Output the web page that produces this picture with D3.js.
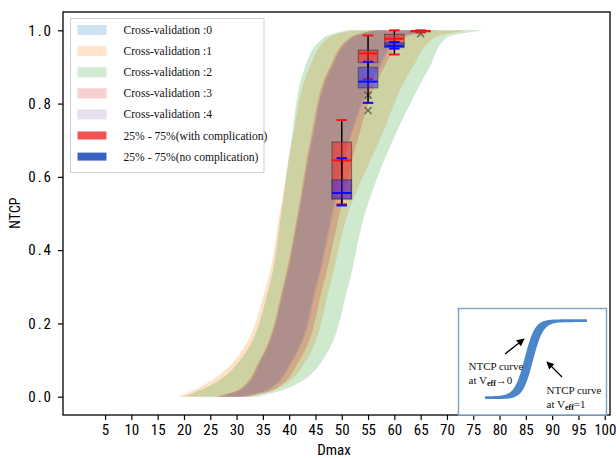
<!DOCTYPE html>
<html><head><meta charset="utf-8">
<script src="https://cdn.jsdelivr.net/npm/d3@7"></script>
<style>body{margin:0;background:#fff}svg{display:block}</style>
</head><body>
<svg id="chart" width="616" height="458"></svg>
<script>
// ---------------- data ----------------
const xTicks = [5,10,15,20,25,30,35,40,45,50,55,60,65,70,75,80,85,90,95,100];
const yTicks = [0, 0.2, 0.4, 0.6, 0.8, 1.0];
const cvNames = ["Cross-validation :0","Cross-validation :1","Cross-validation :2","Cross-validation :3","Cross-validation :4"];
const cvColors = ["#1f77b4","#ff7f0e","#2ca02c","#d62728","#9467bd"];
// NTCP levels at which the band edges (Dmax) were read
const ntcpLevels = [0, 0.02, 0.1, 0.3, 0.5, 0.7, 0.9, 0.98, 1];
const cv0Low  = [26.5, 30.8, 34.6, 39.0, 41.8, 44.3, 48.0, 51.8, 56];
const cv0High = [30.5, 36.0, 40.5, 45.0, 48.1, 51.3, 57.0, 60.8, 67];
const cv1Low  = [19.0, 22.2, 29.7, 35.6, 38.2, 40.6, 43.9, 47.5, 52];
const cv1High = [32.5, 37.5, 43.3, 47.7, 51.2, 57.2, 63.5, 67.6, 74];
const cv2Low  = [20.0, 23.5, 30.7, 36.2, 38.5, 40.4, 43.0, 46.5, 51];
const cv2High = [34.0, 39.2, 46.4, 51.2, 54.4, 59.7, 66.7, 69.9, 77];
const cv3Low  = [26.0, 30.5, 34.4, 38.8, 41.6, 44.0, 47.7, 51.5, 56];
const cv3High = [32.0, 37.3, 42.0, 46.4, 49.6, 53.0, 58.1, 62.0, 68];
const cv4Low  = [27.0, 31.2, 34.8, 39.2, 41.9, 44.4, 48.2, 52.0, 57];
const cv4High = [31.0, 36.3, 40.8, 45.3, 48.4, 51.6, 57.3, 61.1, 67];
const cvLow  = [cv0Low, cv1Low, cv2Low, cv3Low, cv4Low];
const cvHigh = [cv0High, cv1High, cv2High, cv3High, cv4High];

// box plots: with complication (red)
const compPos   = [50, 55, 60, 65];
const compWLow  = [0.525, 0.867, 0.934, 0.994];
const compQ1    = [0.540, 0.912, 0.962, 0.996];
const compMed   = [0.645, 0.937, 0.977, 0.998];
const compQ3    = [0.695, 0.946, 0.989, 0.999];
const compWHigh = [0.755, 0.986, 1.000, 1.000];
const compFliers = [[], [0.823], [], [0.991]];
// box plots: no complication (blue)
const noPos   = [50, 55, 60];
const noWLow  = [0.522, 0.802, 0.950];
const noQ1    = [0.540, 0.843, 0.953];
const noMed   = [0.556, 0.860, 0.957];
const noQ3    = [0.592, 0.899, 0.966];
const noWHigh = [0.651, 0.914, 0.968];
const noFliers = [[], [0.781], []];

const legendBoxNames = ["25% - 75%(with complication)", "25% - 75%(no complication)"];

// inset schematic: centres of the two sigmoid curves (Veff->0, Veff=1)
const insetCentres = [0.39, 0.47];
const insetSlope = 20;

// ---------------- drawing ----------------
const svg = d3.select("#chart");
svg.append("rect").attr("width",616).attr("height",458).attr("fill","#fff");
const L=63, R=610, T=12, B=415;
const x = d3.scaleLinear().domain([-3,101]).range([L,R]);
const y = d3.scaleLinear().domain([-0.05,1.05]).range([B,T]);

svg.append("clipPath").attr("id","clip").append("rect")
  .attr("x",L).attr("y",T).attr("width",R-L).attr("height",B-T);

const plot = svg.append("g").attr("clip-path","url(#clip)");

const area = d3.area()
  .y(d=>y(d.p)).x0(d=>x(d.lo)).x1(d=>x(d.hi))
  .curve(d3.curveMonotoneY);

cvNames.forEach((n,i)=>{
  const rows = ntcpLevels.map((p,k)=>({p, lo:cvLow[i][k], hi:cvHigh[i][k]}));
  plot.append("path").attr("d", area(rows))
    .attr("fill", cvColors[i]).attr("fill-opacity",0.23);
});

// boxes
const boxW = 3.7, capW = 2.0;
function drawBoxes(pos, wl, q1, med, q3, wh, fliers, face, line){
  const g = plot.append("g");
  pos.forEach((p,i)=>{
    g.append("line").attr("x1",x(p)).attr("x2",x(p))
      .attr("y1",y(wl[i])).attr("y2",y(wh[i]))
      .attr("stroke","#000").attr("stroke-width",1.5);
    g.append("rect").attr("x",x(p-boxW/2)).attr("width",x(p+boxW/2)-x(p-boxW/2))
      .attr("y",y(q3[i])).attr("height",Math.max(1,y(q1[i])-y(q3[i])))
      .attr("fill",face).attr("stroke","rgba(60,60,60,0.6)").attr("stroke-width",1.2);
    [wl[i], wh[i]].forEach(v=>{
      g.append("line").attr("x1",x(p-capW/2)).attr("x2",x(p+capW/2))
        .attr("y1",y(v)).attr("y2",y(v)).attr("stroke",line).attr("stroke-width",2);
    });
    g.append("line").attr("x1",x(p-boxW/2)).attr("x2",x(p+boxW/2))
      .attr("y1",y(med[i])).attr("y2",y(med[i])).attr("stroke",line).attr("stroke-width",2);
    fliers[i].forEach(v=>{
      const cx=x(p), cy=y(v), s=3.5;
      g.append("path").attr("d",`M${cx-s},${cy-s}L${cx+s},${cy+s}M${cx-s},${cy+s}L${cx+s},${cy-s}`)
        .attr("stroke","#555").attr("stroke-opacity",0.8).attr("stroke-width",1.6);
    });
  });
}
drawBoxes(compPos, compWLow, compQ1, compMed, compQ3, compWHigh, compFliers, "rgba(245,40,40,0.55)", "#ff1010");
drawBoxes(noPos, noWLow, noQ1, noMed, noQ3, noWHigh, noFliers, "rgba(40,40,255,0.48)", "#0a0aff");

// axes
const tickFont = '"Liberation Sans Narrow","Roboto Condensed","Liberation Sans",sans-serif';
const xAxis = svg.append("g").attr("transform",`translate(0,${B})`)
  .call(d3.axisBottom(x).tickValues(xTicks).tickSize(5).tickPadding(4).tickFormat(d3.format("d")));
const yAxis = svg.append("g").attr("transform",`translate(${L},0)`)
  .call(d3.axisLeft(y).tickValues(yTicks).tickSize(5).tickPadding(5).tickFormat(d3.format(".1f")));
[xAxis,yAxis].forEach(a=>{
  a.select(".domain").remove();
  a.selectAll(".tick line").attr("stroke","#000").attr("stroke-width",1.2);
  a.selectAll("text").attr("fill","#000").style("font-family",tickFont).style("font-size","15px");
});
yAxis.selectAll("text").style("letter-spacing","2px");

// frame
svg.append("rect").attr("x",L).attr("y",T).attr("width",R-L).attr("height",B-T)
  .attr("fill","none").attr("stroke","#000").attr("stroke-width",1.3);

svg.append("text").attr("x",334).attr("y",455).attr("text-anchor","middle")
  .style("font-family",tickFont).style("font-size","15px").text("Dmax");
svg.append("text").attr("transform","translate(20,213) rotate(-90)").attr("text-anchor","middle")
  .style("font-family",tickFont).style("font-size","14px").text("NTCP");

// legend
const lg = svg.append("g");
lg.append("rect").attr("x",70.5).attr("y",18.5).attr("width",193.5).attr("height",154)
  .attr("fill","#fff").attr("fill-opacity",0.85).attr("stroke","#cfcfcf").attr("stroke-width",1);
const legendItems = cvNames.map((n,i)=>({n, c:cvColors[i], op:0.22, h:10}))
  .concat([{n:legendBoxNames[0], c:"#f25252", op:1, h:8},{n:legendBoxNames[1], c:"#3a62c4", op:1, h:8}]);
legendItems.forEach((d,i)=>{
  const cy = 30 + i*21.1;
  lg.append("rect").attr("x",77.5).attr("y",cy-d.h/2).attr("width",29).attr("height",d.h)
    .attr("fill",d.c).attr("fill-opacity",d.op);
  lg.append("text").attr("x",123.5).attr("y",cy).attr("dy","0.35em")
    .style("font-family",'"Liberation Serif","Times New Roman",serif').style("font-size","11.6px")
    .attr("fill","#111").text(d.n);
});

// inset schematic
const ins = svg.append("g");
ins.append("rect").attr("x",458.5).attr("y",308.5).attr("width",148).attr("height",106.5)
  .attr("fill","#fff").attr("stroke","#86a4c8").attr("stroke-width",1.5);
const ix = d3.scaleLinear().domain([0,1]).range([485,587]);
const iy = d3.scaleLinear().domain([0,1]).range([397.7,320.7]);
const sig = (t,c)=>1/(1+Math.exp(-insetSlope*(t-c)));
const ts = d3.range(0,1.0001,0.01);
ins.append("path").attr("d", d3.area()
    .x(t=>ix(t)).y0(t=>iy(sig(t,insetCentres[1]))+1.4).y1(t=>iy(sig(t,insetCentres[0]))-1.4)(ts))
  .attr("fill","#4a86c8");
const defs = svg.append("defs");
defs.append("marker").attr("id","arr").attr("viewBox","0 0 10 10").attr("refX",9).attr("refY",5)
  .attr("markerWidth",6).attr("markerHeight",6).attr("orient","auto")
  .append("path").attr("d","M0,0L10,5L0,10z").attr("fill","#000");
ins.append("line").attr("x1",505).attr("y1",354).attr("x2",524).attr("y2",339)
  .attr("stroke","#000").attr("stroke-width",1.3).attr("marker-end","url(#arr)");
ins.append("line").attr("x1",562).attr("y1",377).attr("x2",547).attr("y2",362)
  .attr("stroke","#000").attr("stroke-width",1.3).attr("marker-end","url(#arr)");
const serif = '"Liberation Serif","Times New Roman",serif';
function insetLabel(x0, y0, tail){
  ins.append("text").attr("x",x0).attr("y",y0)
    .style("font-family",serif).style("font-size","11px").attr("fill","#111").text("NTCP curve");
  const t2 = ins.append("text").attr("x",x0).attr("y",y0+13.5)
    .style("font-family",serif).style("font-size","11px").attr("fill","#111");
  t2.append("tspan").text("at V");
  t2.append("tspan").attr("dy",2.5).style("font-size","8px").style("font-weight","bold").text("eff");
  t2.append("tspan").attr("dy",-2.5).text(tail);
}
insetLabel(468.5, 370, "\u21920");
insetLabel(546.5, 394, "=1");
</script>
</body></html>
